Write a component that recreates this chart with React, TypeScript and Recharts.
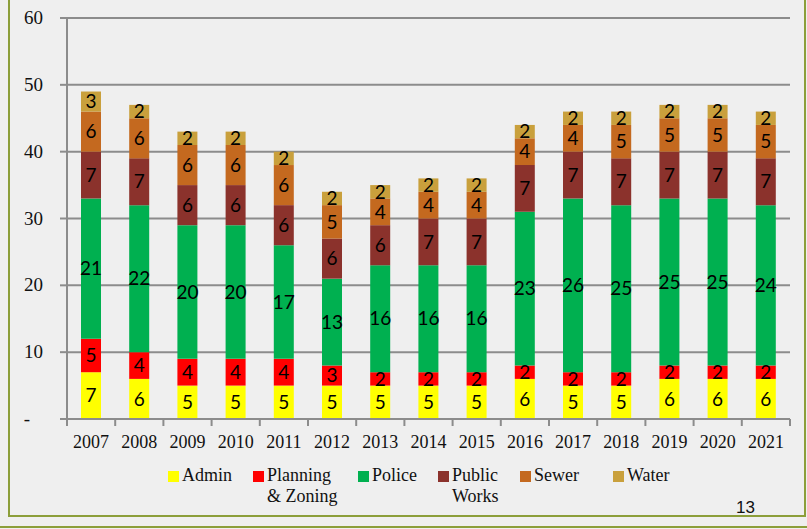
import React from 'react';
import { BarChart, Bar, XAxis, YAxis, CartesianGrid, LabelList } from 'recharts';

const YEARS = ['2007', '2008', '2009', '2010', '2011', '2012', '2013', '2014', '2015', '2016', '2017', '2018', '2019', '2020', '2021'];
const ADMIN = [7, 6, 5, 5, 5, 5, 5, 5, 5, 6, 5, 5, 6, 6, 6];
const PLANNING = [5, 4, 4, 4, 4, 3, 2, 2, 2, 2, 2, 2, 2, 2, 2];
const POLICE = [21, 22, 20, 20, 17, 13, 16, 16, 16, 23, 26, 25, 25, 25, 24];
const PUBLIC_WORKS = [7, 7, 6, 6, 6, 6, 6, 7, 7, 7, 7, 7, 7, 7, 7];
const SEWER = [6, 6, 6, 6, 6, 5, 4, 4, 4, 4, 4, 5, 5, 5, 5];
const WATER = [3, 2, 2, 2, 2, 2, 2, 2, 2, 2, 2, 2, 2, 2, 2];
const Y_TICKS = [0, 10, 20, 30, 40, 50, 60];

const SERIES = [
  { key: 'admin', name: ['Admin'], values: ADMIN, color: '#ffff00' },
  { key: 'planning', name: ['Planning', '& Zoning'], values: PLANNING, color: '#ff0000' },
  { key: 'police', name: ['Police'], values: POLICE, color: '#00b050' },
  { key: 'publicWorks', name: ['Public', 'Works'], values: PUBLIC_WORKS, color: '#8b322c' },
  { key: 'sewer', name: ['Sewer'], values: SEWER, color: '#c4691f' },
  { key: 'water', name: ['Water'], values: WATER, color: '#c9a03c' },
];

const data = YEARS.map((year, i) => {
  const row: Record<string, string | number> = { year };
  SERIES.forEach((s) => {
    row[s.key] = s.values[i];
  });
  return row;
});

const SERIF = '"Liberation Serif", "Times New Roman", serif';
const SANS = 'Lato, "Liberation Sans", sans-serif';
const AXIS = '#8c8c8c';

const YTick = (props: any) => {
  const { x, y, payload } = props;
  if (payload.value === 0) {
    return (
      <text x={27} y={y + 6} textAnchor="middle" fontFamily={SERIF} fontSize={19} fill="#111">
        -
      </text>
    );
  }
  return (
    <text x={x} y={y + 6} textAnchor="end" fontFamily={SERIF} fontSize={19} fill="#111">
      {payload.value}
    </text>
  );
};

const XTick = (props: any) => {
  const { x, y, payload, index } = props;
  const half = payload.offset || 24.1;
  return (
    <g>
      <line x1={x - half} y1={y} x2={x - half} y2={y + 7} stroke={AXIS} strokeWidth={2} />
      {index === YEARS.length - 1 && (
        <line x1={x + half} y1={y} x2={x + half} y2={y + 7} stroke={AXIS} strokeWidth={2} />
      )}
      <text x={x} y={y + 29} textAnchor="middle" fontFamily={SERIF} fontSize={18} fill="#111">
        {payload.value}
      </text>
    </g>
  );
};

const legendX = [168, 253, 358, 438, 520, 613];

export default function App() {
  return (
    <div style={{ position: 'absolute', left: 0, top: 0, width: 807, height: 529, background: '#efefef', overflow: 'hidden' }}>
      <div style={{ position: 'absolute', left: 8, top: 0, width: 794, height: 515, border: '2px solid #8c9e3a', borderTop: 'none' }} />
      <div style={{ position: 'absolute', left: 0, top: 526, width: 807, height: 2, background: '#8c9e3a' }} />
      <BarChart
        width={807}
        height={529}
        data={data}
        margin={{ top: 18, right: 17, left: 0, bottom: 80 }}
        barSize={20}
        style={{ position: 'absolute', left: 0, top: 0 }}
      >
        <CartesianGrid vertical={false} stroke={AXIS} strokeWidth={2} />
        <XAxis
          dataKey="year"
          height={30}
          axisLine={{ stroke: AXIS, strokeWidth: 2 }}
          tickLine={false}
          tickSize={0}
          tickMargin={0}
          tick={<XTick />}
          interval={0}
        />
        <YAxis
          width={67}
          domain={[0, 60]}
          ticks={Y_TICKS}
          axisLine={{ stroke: AXIS, strokeWidth: 2 }}
          tickLine={{ stroke: AXIS, strokeWidth: 2 }}
          tickSize={7}
          tickMargin={17}
          tick={<YTick />}
        />
        {SERIES.map((s) => (
          <Bar key={s.key} dataKey={s.key} stackId="a" fill={s.color} isAnimationActive={false}>
            <LabelList
              dataKey={s.key}
              position="center"
              fill="#000"
              fontFamily={SANS}
              fontSize={19}
            />
          </Bar>
        ))}
      </BarChart>
      {SERIES.map((s, i) => (
        <div key={s.key} style={{ position: 'absolute', left: legendX[i], top: 465, fontFamily: SERIF, fontSize: 18, lineHeight: '21px', color: '#111' }}>
          <span style={{ position: 'absolute', left: 0, top: 6, width: 11, height: 11, background: s.color }} />
          {s.name.map((line) => (
            <div key={line} style={{ marginLeft: 14, whiteSpace: 'nowrap' }}>
              {line}
            </div>
          ))}
        </div>
      ))}
      <div style={{ position: 'absolute', left: 736, top: 498, fontFamily: '"Liberation Sans", Arial, sans-serif', fontSize: 17, color: '#111' }}>
        13
      </div>
    </div>
  );
}
